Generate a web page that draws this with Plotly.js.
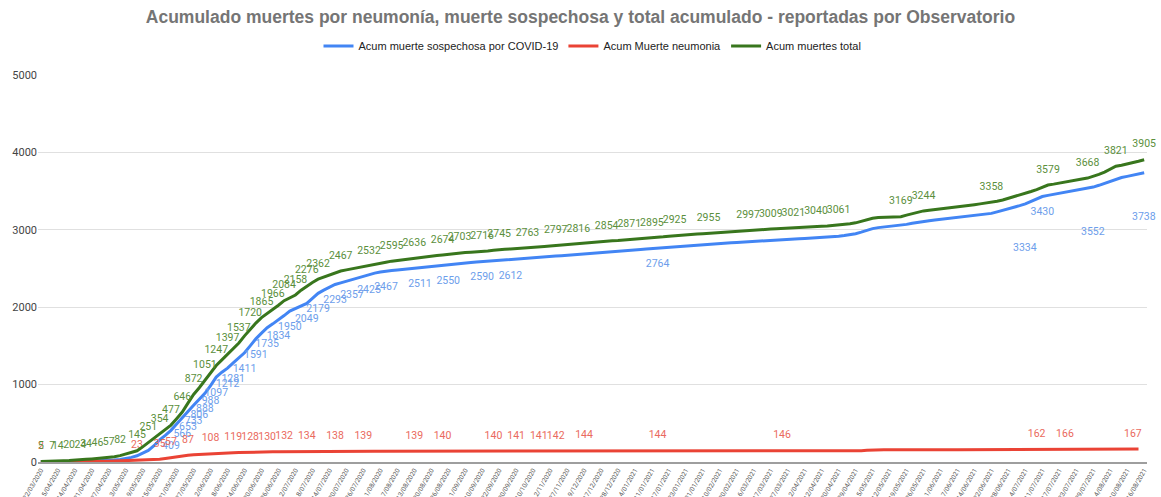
<!DOCTYPE html>
<html>
<head>
<meta charset="utf-8">
<script src="https://cdn.plot.ly/plotly-3.0.1.min.js"></script>
<style>html,body{margin:0;padding:0;background:#fff;}#chart{width:1161px;height:497px;}</style>
</head>
<body>
<div id="chart"></div>
<script>
// Tick labels (one every 3 reports)
const tickLabels = ["22/03/2020","5/04/2020","14/04/2020","21/04/2020","27/04/2020","3/05/2020","9/05/2020","15/05/2020","21/05/2020","27/05/2020","2/06/2020","8/06/2020","14/06/2020","20/06/2020","26/06/2020","2/07/2020","8/07/2020","14/07/2020","20/07/2020","26/07/2020","1/08/2020","7/08/2020","13/08/2020","20/08/2020","26/08/2020","1/09/2020","10/09/2020","22/09/2020","30/09/2020","10/10/2020","2/11/2020","27/11/2020","9/12/2020","17/12/2020","28/12/2020","4/01/2021","11/01/2021","17/01/2021","23/01/2021","31/01/2021","10/02/2021","20/02/2021","6/03/2021","17/03/2021","27/03/2021","2/04/2021","12/04/2021","20/04/2021","29/04/2021","5/05/2021","12/05/2021","19/05/2021","26/05/2021","1/06/2021","7/06/2021","14/06/2021","22/06/2021","28/06/2021","4/07/2021","11/07/2021","17/07/2021","23/07/2021","29/07/2021","4/08/2021","10/08/2021","16/08/2021"];

// Acum muertes total
const totalDeaths = [5,6,7,14,17,20,22,24,34,40,46,51,57,68,82,100,120,145,195,251,300,354,412,477,560,646,760,872,960,1051,1150,1247,1320,1397,1465,1537,1630,1720,1795,1865,1915,1966,2025,2084,2120,2158,2220,2276,2320,2362,2390,2420,2445,2467,2482,2495,2510,2520,2532,2548,2565,2580,2595,2605,2615,2625,2636,2645,2653,2660,2667,2674,2684,2694,2703,2706,2710,2713,2716,2726,2736,2745,2749,2752,2756,2760,2763,2770,2777,2784,2790,2797,2802,2807,2811,2816,2824,2832,2840,2847,2854,2858,2862,2867,2871,2877,2883,2889,2895,2903,2910,2918,2925,2930,2935,2940,2945,2950,2955,2961,2967,2973,2979,2985,2991,2997,3000,3003,3006,3009,3012,3015,3018,3021,3026,3030,3035,3040,3045,3050,3055,3061,3068,3078,3090,3110,3135,3150,3158,3162,3165,3167,3169,3190,3210,3228,3244,3252,3260,3268,3276,3284,3292,3300,3315,3325,3335,3345,3358,3370,3385,3405,3425,3448,3470,3495,3520,3550,3579,3590,3605,3620,3632,3645,3657,3668,3690,3715,3745,3785,3821,3835,3850,3866,3885,3905];

// Acum muerte sospechosa por COVID-19
const suspectedDeaths = [2,2,3,4,5,6,7,8,10,12,14,17,20,26,34,45,60,80,110,150,210,285,345,409,490,566,653,733,806,888,988,1097,1160,1212,1281,1345,1411,1500,1591,1665,1735,1785,1834,1892,1950,1985,2017,2049,2115,2179,2220,2258,2293,2315,2337,2357,2380,2403,2425,2440,2454,2467,2475,2482,2490,2497,2504,2511,2519,2527,2535,2543,2550,2557,2564,2570,2577,2584,2590,2594,2598,2603,2608,2612,2618,2624,2630,2636,2642,2648,2654,2660,2665,2670,2675,2680,2686,2692,2698,2704,2710,2716,2722,2728,2733,2739,2745,2751,2757,2764,2770,2776,2782,2787,2792,2797,2802,2807,2812,2817,2822,2827,2832,2837,2842,2847,2851,2855,2859,2863,2867,2871,2875,2879,2883,2887,2891,2895,2900,2905,2911,2918,2926,2936,2950,2970,2995,3015,3028,3036,3042,3048,3054,3070,3085,3098,3110,3118,3126,3134,3142,3150,3158,3166,3175,3184,3193,3202,3212,3232,3250,3268,3290,3312,3334,3365,3398,3430,3445,3458,3470,3482,3495,3508,3520,3535,3552,3575,3600,3630,3660,3675,3690,3705,3720,3738];

// Acum Muerte neumonia
const pneumoniaDeaths = [2,2,3,3,4,4,5,5,6,7,8,9,10,12,14,17,20,23,26,29,32,35,45,57,67,77,87,93,98,103,108,111,114,117,119,122,125,128,129,129,130,131,131,132,133,133,134,134,135,136,137,137,138,138,138,139,139,139,139,139,139,139,139,139,139,139,139,139,140,140,140,140,140,140,140,140,140,140,140,140,140,141,141,141,141,141,141,141,141,142,142,142,142,143,144,144,144,144,144,144,144,144,144,144,144,144,144,144,144,144,145,145,145,145,145,145,145,145,145,145,145,145,145,145,145,145,145,145,145,145,145,146,146,146,146,146,146,146,146,146,146,146,146,146,146,146,152,156,157,157,157,158,158,158,158,158,158,158,158,158,158,159,159,159,159,159,160,160,160,160,160,160,161,161,162,162,162,163,164,165,165,166,166,166,166,166,166,166,166,166,166,166,166,167,167];

// Reports that carry a visible value label
const totalLabelIdx = [0,2,3,5,7,8,10,12,14,17,19,21,23,25,27,29,31,33,35,37,39,41,43,45,47,49,53,58,62,66,71,74,78,81,86,91,95,100,104,108,112,118,125,129,133,137,141,152,156,168,178,185,190,195];
const suspectedLabelIdx = [23,25,26,27,28,29,30,31,33,34,36,38,40,42,44,47,49,52,55,58,61,67,72,78,83,109,177];
const suspectedLowLabelIdx = [174,186,195];
const pneumoniaLabelIdx = [0,17,21,23,26,30,34,37,40,43,47,52,57,66,71,80,84,88,91,96,109,131,176,181,193,195];

const idx = totalDeaths.map((v, i) => i);
const lbl = (arr, sel) => arr.map((v, i) => sel.includes(i) ? String(v) : '');
const tickVals = tickLabels.map((t, j) => j * 3);

const font = 'Roboto, "Liberation Sans", Arial, sans-serif';
const labelSize = 10.5;
const clear = 'rgba(0,0,0,0)';

const traces = [
  {
    x: idx, y: suspectedDeaths, name: 'Acum muerte sospechosa por COVID-19',
    mode: 'lines+markers+text', text: lbl(suspectedDeaths, suspectedLabelIdx), textposition: 'bottom center',
    textfont: {color: '#6d9eeb', size: labelSize, family: font}, marker: {size: 16, color: clear},
    line: {color: '#4285f4', width: 3}, cliponaxis: false, hoverinfo: 'y'
  },
  {
    x: idx, y: pneumoniaDeaths, name: 'Acum Muerte neumonia',
    mode: 'lines+markers+text', text: lbl(pneumoniaDeaths, pneumoniaLabelIdx), textposition: 'top center',
    textfont: {color: '#ea6a5e', size: labelSize, family: font}, marker: {size: 14, color: clear},
    line: {color: '#ea4335', width: 3}, cliponaxis: false, hoverinfo: 'y'
  },
  {
    x: idx, y: totalDeaths, name: 'Acum muertes total',
    mode: 'lines+markers+text', text: lbl(totalDeaths, totalLabelIdx), textposition: 'top center',
    textfont: {color: '#5b8f3c', size: labelSize, family: font}, marker: {size: 14, color: clear},
    line: {color: '#38761d', width: 3}, cliponaxis: false, hoverinfo: 'y'
  }
];

const annotations = suspectedLowLabelIdx.map(i => ({
  x: i, y: suspectedDeaths[i], xref: 'x', yref: 'y', text: String(suspectedDeaths[i]),
  showarrow: false, yshift: -44, font: {color: '#6d9eeb', size: labelSize, family: font}
}));

const layout = {
  width: 1161, height: 497,
  margin: {l: 38, r: 14, t: 75, b: 35},
  paper_bgcolor: '#ffffff', plot_bgcolor: '#ffffff',
  font: {family: font, color: '#444'},
  title: {
    text: '<b>Acumulado muertes por neumonía, muerte sospechosa y total acumulado - reportadas por Observatorio</b>',
    x: 0.5, xanchor: 'center', y: 0.966, yanchor: 'middle',
    font: {size: 17.5, color: '#757575', family: '"Liberation Sans", Arial, sans-serif'}
  },
  showlegend: true,
  legend: {
    orientation: 'h', x: 0.5, xanchor: 'center', y: 1.075, yanchor: 'middle',
    font: {size: 11, color: '#222', family: '"Liberation Sans", Arial, sans-serif'}, itemwidth: 30, tracegroupgap: 0
  },
  annotations: annotations,
  xaxis: {
    range: [-0.5, 195.5], tickmode: 'array', tickvals: tickVals, ticktext: tickLabels,
    tickangle: -60, tickfont: {size: 6.5, color: '#555', family: font},
    showgrid: false, zeroline: false, showline: true, linecolor: '#9e9e9e', linewidth: 2,
    ticks: '', automargin: false, fixedrange: true
  },
  yaxis: {
    range: [0, 5000], tickvals: [0, 1000, 2000, 3000, 4000, 5000],
    tickfont: {size: 11, color: '#444', family: font},
    gridcolor: '#e0e0e0', gridwidth: 1, zeroline: false, showline: false,
    ticks: '', automargin: false, fixedrange: true
  }
};

Plotly.newPlot('chart', traces, layout, {displayModeBar: false, staticPlot: true});
</script>
</body>
</html>
